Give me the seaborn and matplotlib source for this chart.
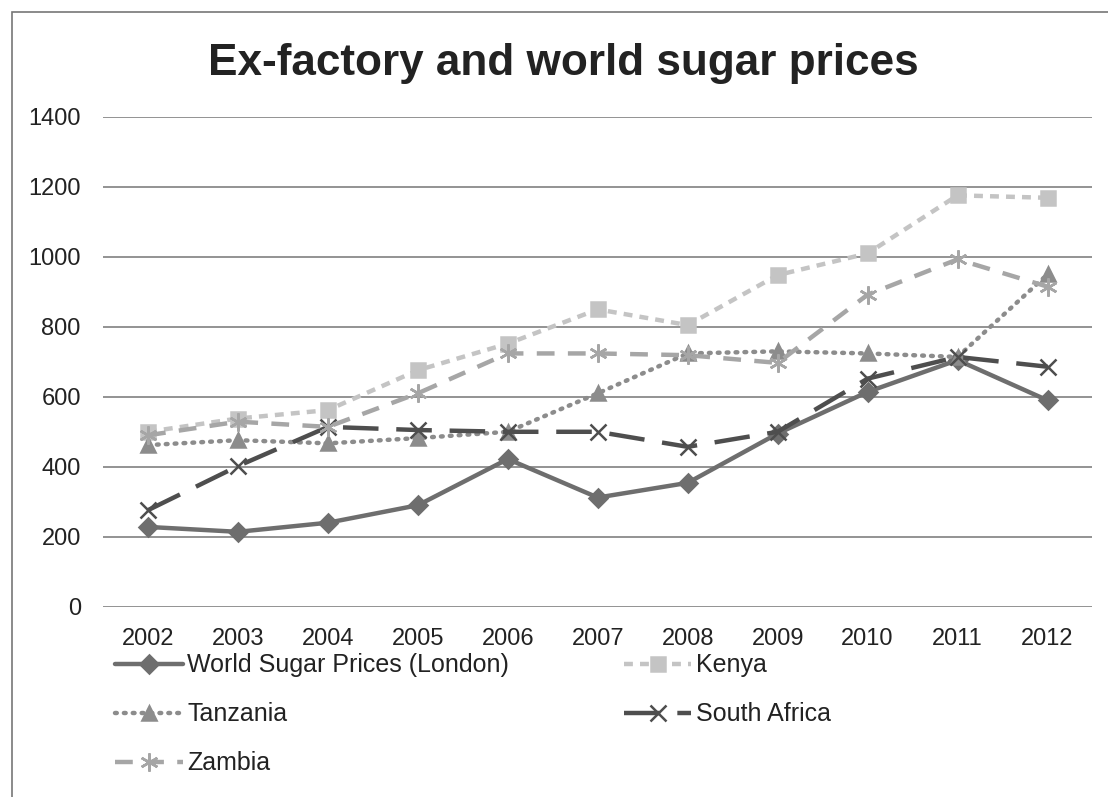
import seaborn as sns
import matplotlib.pyplot as plt
from matplotlib.patches import Rectangle

# Data
years = [2002, 2003, 2004, 2005, 2006, 2007, 2008, 2009, 2010, 2011, 2012]
world = [228, 214, 240, 290, 422, 312, 354, 495, 614, 705, 590]
kenya = [500, 538, 562, 676, 752, 850, 805, 948, 1010, 1176, 1169]
tanzania = [462, 476, 467, 482, 500, 610, 724, 730, 724, 714, 950]
south_africa = [276, 402, 514, 505, 500, 500, 457, 500, 652, 714, 686]
zambia = [490, 529, 514, 610, 724, 724, 719, 697, 892, 993, 915]

sns.set_style("white")
plt.rcParams['font.family'] = ['Liberation Sans', 'DejaVu Sans']

fig = plt.figure(figsize=(11.08, 7.97), dpi=100)
ax = fig.add_axes([0.093, 0.2388, 0.893, 0.6144])

series = [
    ("World Sugar Prices (London)", world, "#6e6e6e", "-", "D", 9),
    ("Kenya", kenya, "#c4c4c4", (0, (2.0, 1.6)), "s", 10),
    ("Tanzania", tanzania, "#8c8c8c", (0, (0.4, 1.6)), "^", 10),
    ("South Africa", south_africa, "#4e4e4e", (0, (8, 4)), "x", 11),
    ("Zambia", zambia, "#a6a6a6", (0, (4, 3)), (6, 2, 0), 13),
]

lines = {}
for name, vals, col, ls, mk, ms in series:
    sns.lineplot(x=years, y=vals, ax=ax, color=col, linewidth=3.2,
                 marker=mk, markersize=ms, markeredgecolor=col,
                 markeredgewidth=1.8, label=name)
    ln = ax.get_lines()[-1]
    ln.set_linestyle(ls)
    if ls == (0, (0.4, 1.6)):
        ln.set_dash_capstyle('round')
    lines[name] = ln

ax.set_xlim(2001.5, 2012.5)
ax.set_ylim(0, 1400)
ax.set_yticks(range(0, 1401, 200))
ax.set_xticks(years)
ax.set_xticklabels([str(y) for y in years])
ax.yaxis.grid(True, color="#8a8a8a", linewidth=1.3)
ax.set_axisbelow(True)
for s in ax.spines.values():
    s.set_visible(False)
ax.tick_params(axis='both', length=0, labelsize=17, colors="#222222")
ax.tick_params(axis='y', pad=16)
ax.tick_params(axis='x', pad=15)
ax.set_xlabel("")
ax.set_ylabel("")

fig.text(0.508, 1 - 75 / 797, "Ex-factory and world sugar prices", ha='center',
         va='baseline', fontsize=31.8, fontweight='bold', color="#222222")

# legend: row-major order in two columns
order = ["World Sugar Prices (London)", "Tanzania", "Zambia", "Kenya", "South Africa"]
ax.legend([lines[n] for n in order], order, ncol=2, frameon=False,
          loc='upper left', bbox_to_anchor=(0.002, -0.075), fontsize=18,
          handlelength=2.7, handletextpad=0.18, labelspacing=1.0,
          columnspacing=4.6, borderaxespad=0, labelcolor="#222222")

fig.patches.append(Rectangle((0.011, -0.01), 0.995, 0.995, transform=fig.transFigure,
                             fill=False, edgecolor="#777777", linewidth=1.2))

plt.savefig("out.png", dpi=100)
plt.close()
